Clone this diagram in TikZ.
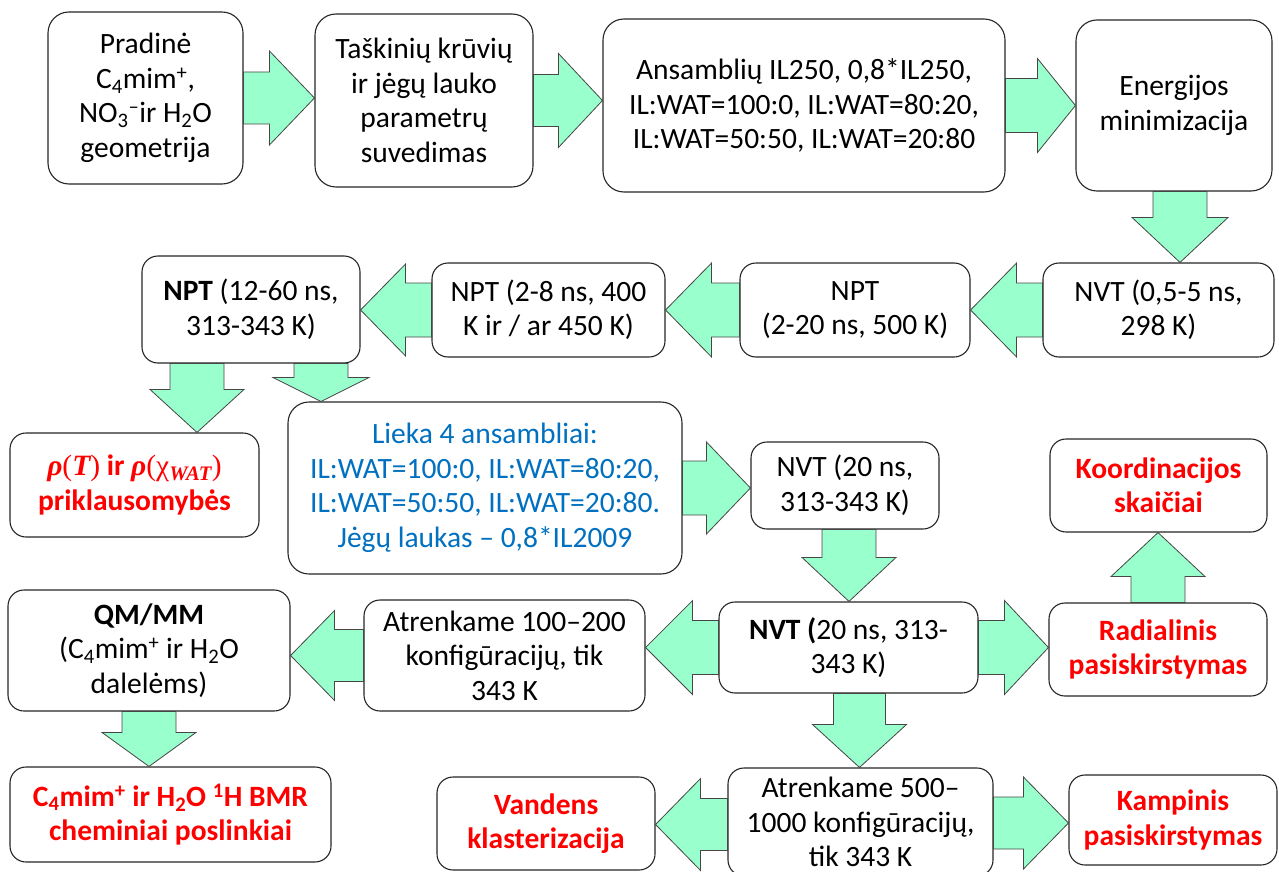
\documentclass[tikz,border=0pt]{standalone}
\usepackage{fontspec}
\setmainfont{Carlito}
\newfontfamily\mfont{Liberation Serif}
\usetikzlibrary{calc}
\definecolor{mint}{RGB}{153,255,204}
\definecolor{txtred}{RGB}{255,0,0}
\definecolor{txtblue}{RGB}{0,112,192}
\definecolor{arrline}{RGB}{70,70,70}
\tikzset{
  box/.style={draw=black!85, line width=1.1pt, fill=white, rounded corners=16pt,
    align=center, inner sep=0pt, font=\fontsize{29.5}{34.5}\selectfont},
  bigbox/.style={box, rounded corners=21pt},
  res/.style={text=txtred, font=\fontsize{29.5}{34.5}\selectfont\bfseries},
  blk/.style={fill=mint, draw=arrline, line width=0.8pt, line join=miter},
}
\newcommand\bx[7][]{\node[box,#1,minimum width={(#5-#3)*1pt},minimum height={(#6-#4)*1pt}] (#2) at ({(#3+#5)/2},{(#4+#6)/2}) {#7};}
\newcommand\barrow[5]{%
  \coordinate (hb) at ($(#2)!#5pt!(#1)$);
  \draw[blk] ($(#1)!#3pt!90:(#2)$) -- ($(hb)!#3pt!-90:(#1)$) -- ($(hb)!#4pt!-90:(#1)$) -- (#2)
    -- ($(hb)!#4pt!90:(#1)$) -- ($(hb)!#3pt!90:(#1)$) -- ($(#1)!#3pt!-90:(#2)$) -- cycle;}
\newcommand\mbi[1]{{\mfont\bfseries\itshape #1}}
\newcommand\mrm[1]{{\mfont\mdseries\upshape #1}}
\begin{document}
\begin{tikzpicture}[x=1pt,y=-1pt]
\useasboundingbox (0,0) rectangle (1279,872);
\clip (0,0) rectangle (1279,872);
% boxes
\bx[bigbox]{b1}{48}{12}{243}{184}{Pradinė\\C\textsubscript{4}mim\textsuperscript{+},\\NO\textsubscript{3}\textsuperscript{--}ir H\textsubscript{2}O\\geometrija}
\bx[bigbox]{b2}{315}{14}{533}{187}{Taškinių krūvių\\ir jėgų lauko\\parametrų\\suvedimas}
\bx[bigbox]{b3}{603}{19}{1005}{192}{Ansamblių IL250, 0,8*IL250,\\IL:WAT=100:0, IL:WAT=80:20,\\IL:WAT=50:50, IL:WAT=20:80}
\bx[bigbox]{b4}{1076}{20}{1272}{191}{Energijos\\minimizacija}
\bx{b5}{1043}{263}{1274}{357}{NVT (0,5-5 ns,\\298 K)}
\bx{b6}{740}{263}{970}{357}{NPT\\(2-20 ns, 500 K)}
\bx{b7}{432}{263}{665}{357}{NPT (2-8 ns, 400\\K ir / ar 450 K)}
\bx{b8}{142}{256}{360}{363}{\textbf{NPT} (12-60 ns,\\313-343 K)}
\bx[res]{b9}{10}{433}{259}{537}{\mbi{ρ}\mrm{(}\mbi{T}\mrm{)} ir \mbi{ρ}\mrm{(χ\textsubscript{\mbi{WAT}})}\\priklausomybės}
\bx[bigbox,text=txtblue]{b10}{288}{402}{682}{574}{Lieka 4 ansambliai:\\IL:WAT=100:0, IL:WAT=80:20,\\IL:WAT=50:50, IL:WAT=20:80.\\Jėgų laukas -- 0,8*IL2009}
\bx{b11}{751}{442}{939}{529}{NVT (20 ns,\\313-343 K)}
\bx[res]{b12}{1050}{439}{1267}{532}{Koordinacijos\\skaičiai}
\bx{b13}{8}{590}{290}{711}{\textbf{QM/MM}\\(C\textsubscript{4}mim\textsuperscript{+} ir H\textsubscript{2}O\\dalelėms)}
\bx{b14}{364}{600}{645}{711}{Atrenkame 100--200\\konfigūracijų, tik\\343 K}
\bx{b15}{719}{602}{978}{693}{\textbf{NVT (}20 ns, 313-\\343 K)}
\bx[res]{b16}{1049}{603}{1267}{696}{Radialinis\\pasiskirstymas}
\bx[res]{b17}{10}{767}{331}{862}{C\textsubscript{4}mim\textsuperscript{+} ir H\textsubscript{2}O \textsuperscript{1}H BMR\\cheminiai poslinkiai}
\bx[res]{b18}{437}{777}{655}{870}{Vandens\\klasterizacija}
\bx{b19}{728}{768}{993}{876}{Atrenkame 500--\\1000 konfigūracijų,\\tik 343 K}
\bx[res]{b20}{1069}{775}{1277}{865}{Kampinis\\pasiskirstymas}
% block arrows
\coordinate (a1h) at (b2.west |- b1.east);
\barrow{b1.east}{a1h}{26}{47}{45}
\coordinate (a2h) at (b3.west |- b2.east);
\barrow{b2.east}{a2h}{26}{47}{44}
\coordinate (a3h) at (b4.west |- b3.east);
\barrow{b3.east}{a3h}{27}{47}{38}
\coordinate (a4s) at ($(b4.south)+(6,0)$);
\coordinate (a4h) at (a4s |- b5.north);
\barrow{a4s}{a4h}{27}{48}{45}
\coordinate (a5h) at (b6.east |- b5.west);
\barrow{b5.west}{a5h}{27}{47}{46}
\coordinate (a6h) at (b7.east |- b6.west);
\barrow{b6.west}{a6h}{27}{47}{46}
\coordinate (a7h) at (b8.east |- b7.west);
\barrow{b7.west}{a7h}{27}{46}{45}
\coordinate (a8s) at ($(b8.south)+(-54,0)$);
\coordinate (a8h) at (a8s |- b9.north);
\barrow{a8s}{a8h}{27}{47}{43}
\coordinate (a9s) at ($(b8.south)+(70,0)$);
\coordinate (a9h) at (a9s |- b10.north);
\barrow{a9s}{a9h}{27}{48}{24}
\coordinate (a10h) at (b11.west |- b10.east);
\barrow{b10.east}{a10h}{27}{46}{44}
\coordinate (a11s) at ($(b11.south)+(4,0)$);
\coordinate (a11h) at (a11s |- b15.north);
\barrow{a11s}{a11h}{27}{47}{44}
\coordinate (a12h) at (b13.east |- b14.west);
\barrow{b14.west}{a12h}{26}{45}{44}
\coordinate (a13h) at (b14.east |- b15.west);
\barrow{b15.west}{a13h}{27}{47}{47}
\coordinate (a14h) at (b16.west |- b15.east);
\barrow{b15.east}{a14h}{27}{47}{44}
\coordinate (a15h) at (b16.north |- b12.south);
\barrow{b16.north}{a15h}{27}{47}{44}
\coordinate (a16s) at ($(b15.south)+(11,0)$);
\coordinate (a16h) at (a16s |- b19.north);
\barrow{a16s}{a16h}{26}{47}{43}
\coordinate (a17h) at (b13.south |- b17.north);
\barrow{b13.south}{a17h}{27}{47}{34}
\coordinate (a18s) at ($(b19.west |- b18.east)+(0,1)$);
\coordinate (a18h) at (b18.east |- a18s);
\barrow{a18s}{a18h}{26}{46}{45}
\coordinate (a19s) at ($(b19.east |- b20.west)+(0,3)$);
\coordinate (a19h) at (b20.west |- a19s);
\barrow{a19s}{a19h}{26}{46}{45}
\end{tikzpicture}
\end{document}
